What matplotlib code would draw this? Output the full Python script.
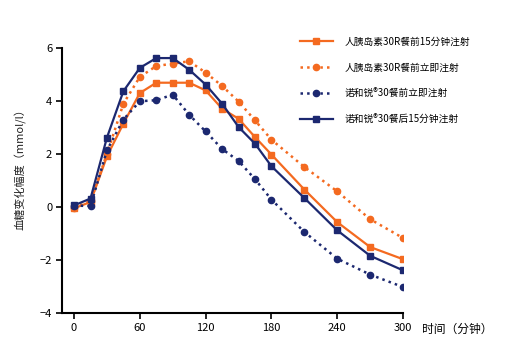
import numpy as np
import matplotlib.pyplot as plt

plt.rcParams['font.family'] = ['Noto Sans CJK SC', 'DejaVu Sans']

t = [0, 15, 30, 45, 60, 75, 90, 105, 120, 135, 150, 165, 180, 210, 240, 270, 300]

# 人胰岛素30R 餐前15分钟注射
r30_pre15 = [-0.05, 0.19, 1.91, 3.15, 4.30, 4.69, 4.69, 4.69, 4.40, 3.71, 3.33, 2.64, 1.98, 0.66, -0.57, -1.51, -1.97]
# 人胰岛素30R 餐前立即注射
r30_now = [-0.02, 0.22, 2.0, 3.90, 4.91, 5.32, 5.41, 5.50, 5.07, 4.57, 3.98, 3.27, 2.54, 1.51, 0.59, -0.46, -1.17]
# 诺和锐30 餐前立即注射
nr30_now = [0.05, 0.04, 2.14, 3.30, 3.99, 4.03, 4.24, 3.48, 2.85, 2.19, 1.74, 1.05, 0.28, -0.94, -1.95, -2.55, -3.02]
# 诺和锐30 餐后15分钟注射
nr30_post15 = [0.06, 0.32, 2.62, 4.37, 5.25, 5.62, 5.62, 5.18, 4.62, 3.90, 3.02, 2.39, 1.54, 0.34, -0.88, -1.84, -2.39]

labels = ['人胰岛素30R餐前15分钟注射', '人胰岛素30R餐前立即注射',
          '诺和锐®30餐前立即注射', '诺和锐®30餐后15分钟注射']

orange = '#F46A20'
navy = '#1C2870'

fig = plt.figure(figsize=(5.08, 3.54), dpi=100)
ax = fig.add_axes([62/508, 41/354, 341/508, 265/354])

ax.plot(t, r30_pre15, '-', color=orange, lw=1.6, marker='s', ms=4.2, label=labels[0])
ax.plot(t, r30_now, ':', color=orange, lw=1.8, marker='o', ms=4.5, label=labels[1])
ax.plot(t, nr30_now, ':', color=navy, lw=1.8, marker='o', ms=4.5, label=labels[2])
ax.plot(t, nr30_post15, '-', color=navy, lw=1.6, marker='s', ms=4.2, label=labels[3])

ax.set_xlim(-11, 300)
ax.set_ylim(-4, 6)
ax.set_xticks([0, 60, 120, 180, 240, 300])
ax.set_yticks([-4, -2, 0, 2, 4, 6])
for s in ['top', 'right']:
    ax.spines[s].set_visible(False)
for s in ['left', 'bottom']:
    ax.spines[s].set_linewidth(1.5)
ax.tick_params(direction='out', length=4, width=1.2, labelsize=8, pad=3)

leg = ax.legend(loc='upper left', bbox_to_anchor=(0.672, 1.075), frameon=False,
                fontsize=7, handlelength=3.4, labelspacing=1.62, handletextpad=1.2)

fig.text(422/508, 1 - 329/354, '时间（分钟）', fontsize=8.5, va='center', ha='left')
fig.text(20/508, 1 - 167/354, '血糖变化幅度（mmol/l）', fontsize=8, rotation=90,
         va='center', ha='center', color='#222222')

fig.savefig('out.png', dpi=100)
